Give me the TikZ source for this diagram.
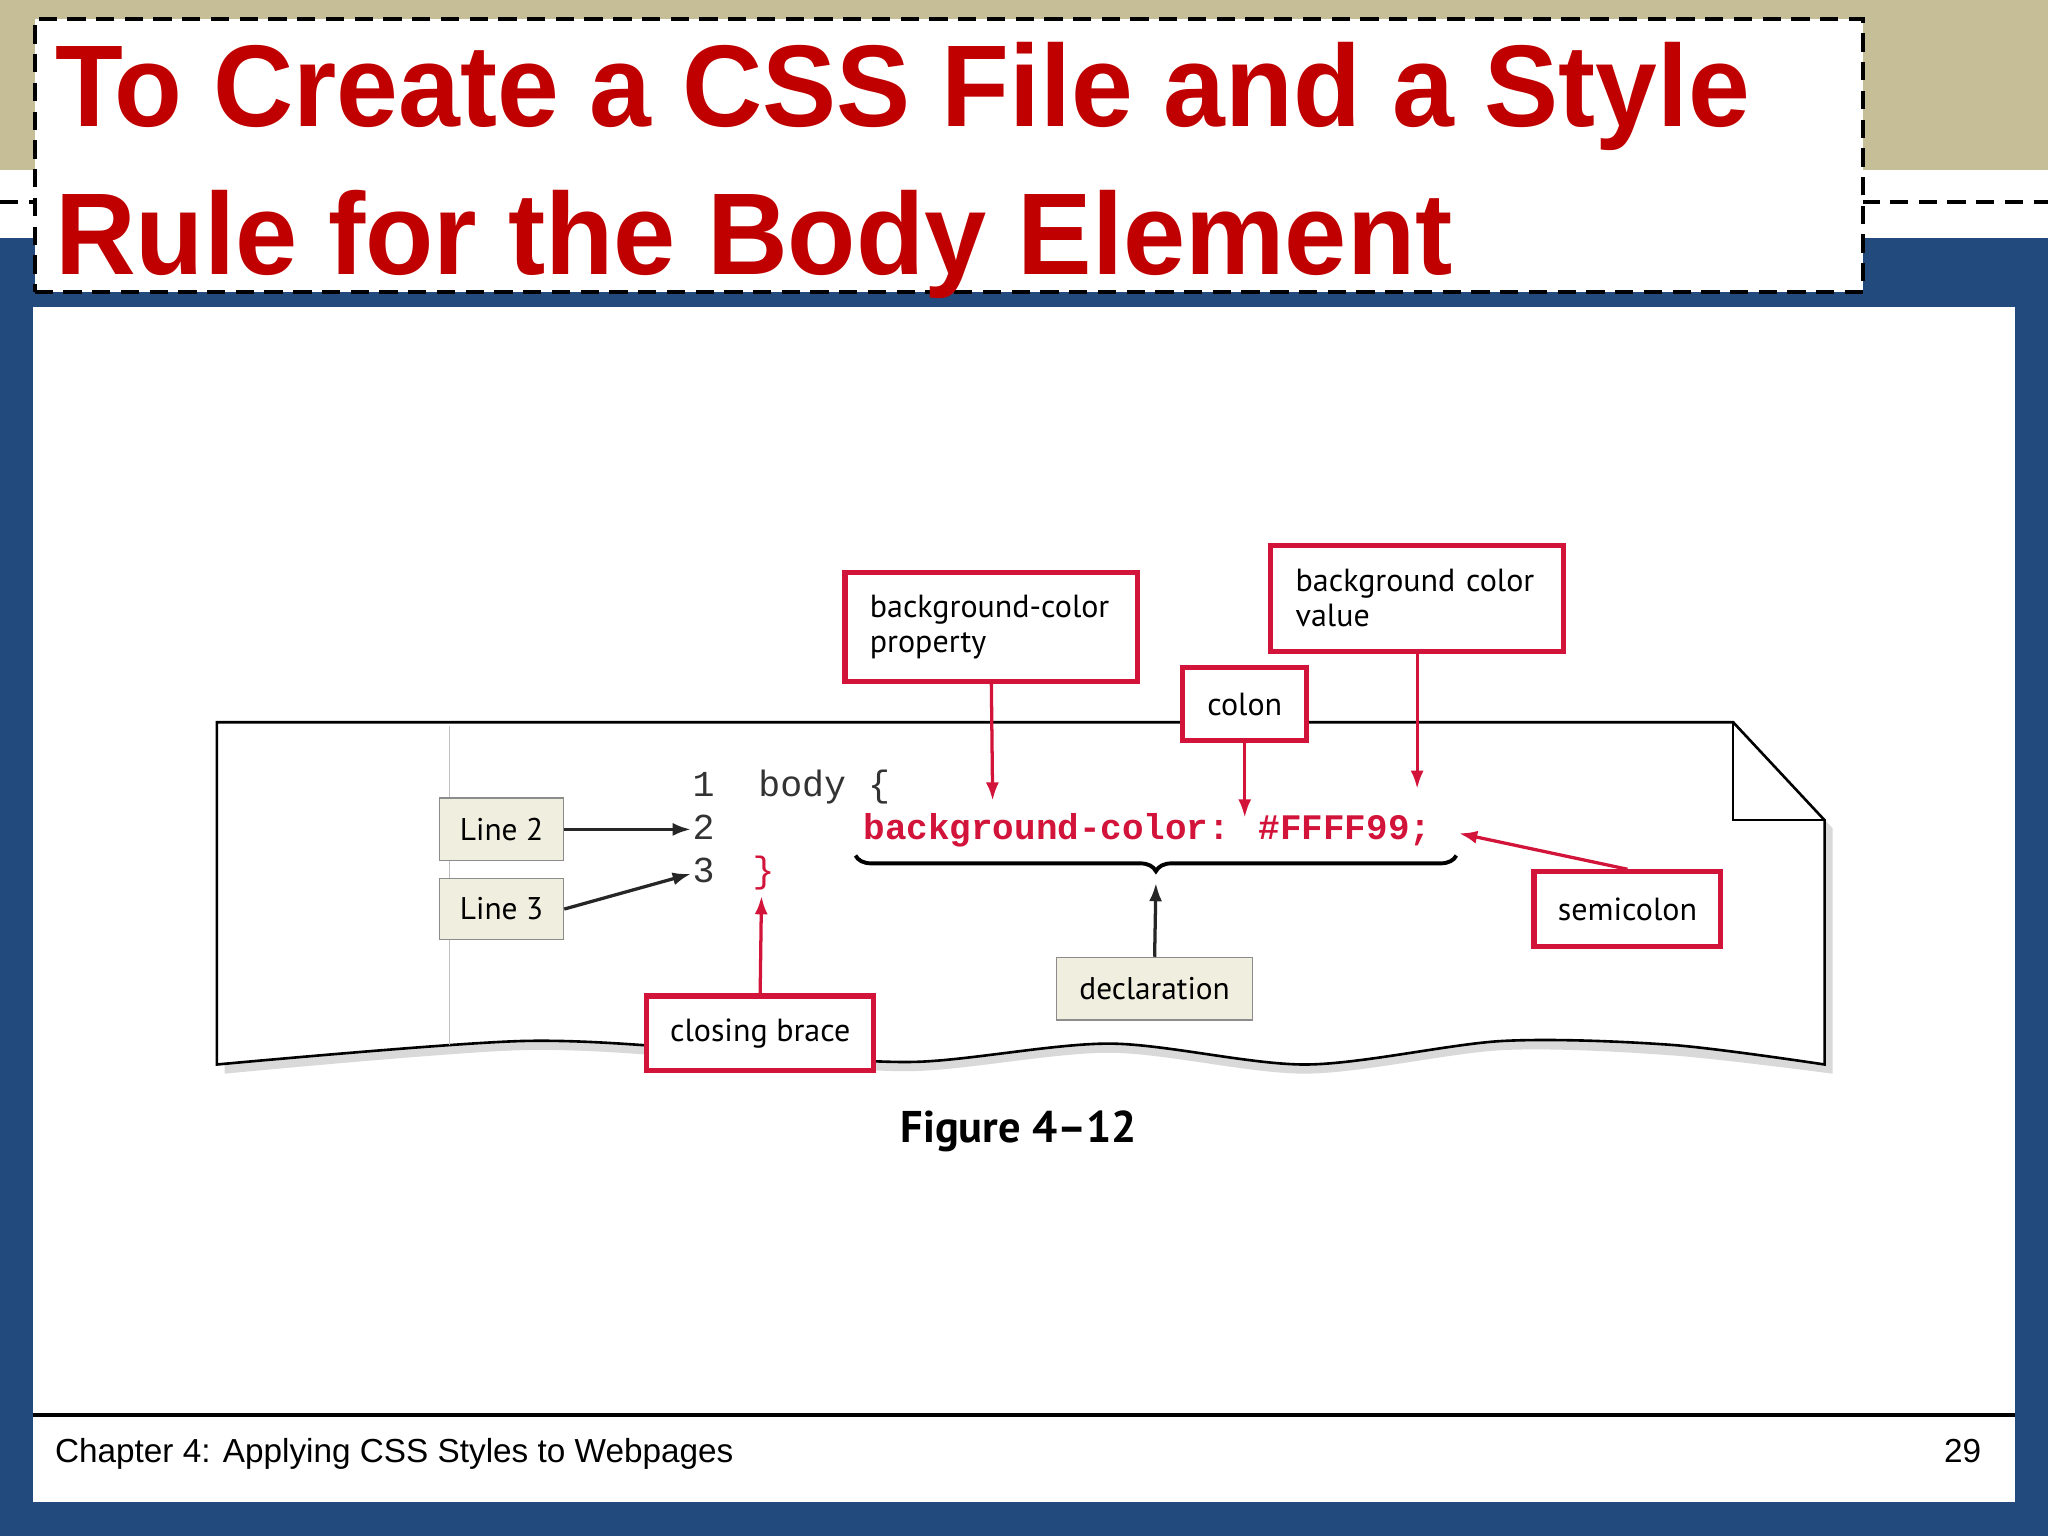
\documentclass[tikz,border=0pt]{standalone}
\usepackage{fontspec}
\setmainfont{Liberation Sans}
\newfontfamily\boxfont{PT Sans}
\newfontfamily\codefont{Liberation Mono}
\usetikzlibrary{decorations.pathreplacing,arrows.meta}
\definecolor{tan}{HTML}{C5BE97}
\definecolor{slideblue}{HTML}{234A7D}
\definecolor{titlered}{HTML}{C00000}
\definecolor{boxred}{HTML}{D2143A}
\definecolor{beige}{HTML}{EFEEDF}
\begin{document}
\begin{tikzpicture}[x=1pt,y=-1pt,
  redbox/.style={draw=boxred,line width=4pt,fill=white,align=left,inner sep=0pt,font=\boxfont\fontsize{24.5}{27}\selectfont},
  graybox/.style={draw=black!45,line width=1pt,fill=beige,inner sep=0pt,font=\boxfont\fontsize{24}{26}\selectfont},
  redarrow/.style={draw=boxred,line width=2.5pt,-{Latex[length=14pt,width=10pt]}},
  blackarrow/.style={draw=black!85,line width=2.5pt,-{Latex[length=14pt,width=10pt]}},
  code/.style={font=\codefont\fontsize{28}{28}\selectfont,inner sep=0pt,anchor=base west}]
\useasboundingbox (0,0) rectangle (1568,1176);
\fill[slideblue] (0,0) rectangle (1568,1176);
\fill[tan] (0,0) rectangle (1568,130);
\fill[white] (0,130) rectangle (1568,182);
\draw[dashed,line width=3pt,dash pattern=on 14pt off 8pt] (0,155) -- (25,155) (1425,155) -- (1568,155);
\node[draw,dashed,line width=3pt,dash pattern=on 14pt off 8pt,fill=white,minimum width=1400pt,minimum height=209pt,inner sep=0pt,anchor=north west] (titlebox) at (25,13) {};
\node[anchor=base west,inner sep=0pt,text=titlered] (t1) at (42,97) {\resizebox{1298pt}{\height}{\fontsize{89}{89}\selectfont\bfseries To Create a CSS File and a Style}};
\node[anchor=base west,inner sep=0pt,text=titlered] (t2) at (42,210) {\resizebox{1070pt}{\height}{\fontsize{89}{89}\selectfont\bfseries Rule for the Body Element}};
\fill[white] (25,235) rectangle (1543,1150);
\draw[line width=3pt] (25,1083) -- (1543,1083);
\node[anchor=base west,inner sep=0pt,font=\fontsize{25.5}{25.5}\selectfont] (foot) at (42,1120) {Chapter 4: Applying CSS Styles to Webpages};
\node[anchor=base east,inner sep=0pt,font=\fontsize{25.5}{25.5}\selectfont] (page) at (1517,1120) {29};
% paper
\fill[black!15] (172,560) -- (1333,560) -- (1403,634) -- (1403,822) -- plot[smooth] coordinates {(1403,822) (1280,808) (1150,804) (1000,822) (850,806) (700,820) (560,812) (400,804) (172,822)} -- cycle;
\draw[line width=2pt,fill=white] (166,553) -- (1327,553) -- (1397,628) -- (1397,815)
  -- plot[smooth] coordinates {(1397,815) (1280,800) (1150,797) (1000,815) (850,799) (700,813) (560,805) (400,797) (166,815)} -- cycle;
\draw[line width=1.5pt] (1327,553) -- (1327,628) -- (1397,628);
\draw[black!25,line width=1pt] (344,556) -- (344,800);
% code
\node[code,text=black!80] (c1) at (530,610) {1\ \ body \{};
\node[code,text=black!80] (n2) at (530,643) {2};
\node[code,text=black!80] (n3) at (530,676) {3};
\node[code,text=boxred] (cbr) at (576,676) {\}};
\node[code,text=boxred,font=\codefont\bfseries\fontsize{27.5}{28}\selectfont] (decl) at (661,643) {background-color: \#FFFF99;};
\draw[decorate,decoration={brace,mirror,amplitude=12pt},line width=3pt] (655,655) -- (1115,655) coordinate[midway] (bm);
\coordinate (btip) at (885,676);
% boxes
\node[redbox,minimum width=224pt,minimum height=83pt,text width=186pt] (prop) at (759,480) {background-color\\property};
\node[redbox,minimum width=224pt,minimum height=81pt,text width=186pt] (val) at (1085,458) {background color\\value};
\node[redbox,minimum width=95pt,minimum height=56pt] (colon) at (953,539) {colon};
\node[redbox,minimum width=143pt,minimum height=57pt] (semi) at (1246,696) {semicolon};
\node[redbox,minimum width=174pt,minimum height=57pt] (close) at (582,791) {closing brace};
\node[graybox,minimum width=95pt,minimum height=48pt] (l2) at (384,635) {Line 2};
\node[graybox,minimum width=95pt,minimum height=47pt] (l3) at (384,696) {Line 3};
\node[graybox,minimum width=150pt,minimum height=48pt] (dbox) at (884,757) {declaration};
% arrows
\coordinate (a1) at (760,613);
\coordinate (a2) at (953,626);
\coordinate (a3) at (1085,604);
\coordinate (a4) at (1117,638);
\coordinate (a5) at (583,686);
\coordinate (a6) at (529,635);
\coordinate (a7) at (529,669);
\draw[redarrow] (prop.south) -- (a1);
\draw[redarrow] (colon.south) -- (a2);
\draw[redarrow] (val.south) -- (a3);
\draw[redarrow] (semi.north) -- (a4);
\draw[redarrow] (close.north) -- (a5);
\draw[blackarrow] (l2.east) -- (a6);
\draw[blackarrow] (l3.east) -- (a7);
\draw[blackarrow] (dbox.north) -- (btip);
\node[font=\boxfont\bfseries\fontsize{34}{34}\selectfont,inner sep=0pt] (fig) at (780,866) {Figure 4–12};
\end{tikzpicture}
\end{document}
